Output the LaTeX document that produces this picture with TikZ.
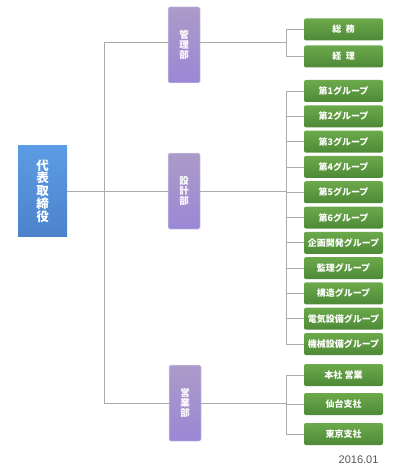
\documentclass[tikz,border=0pt]{standalone}
\usepackage{fontspec}
\newfontfamily\jp{Noto Sans CJK JP}
\newfontfamily\lat{Liberation Sans}
\definecolor{repA}{HTML}{5C9CE4}
\definecolor{repB}{HTML}{4C82CC}
\definecolor{depA}{HTML}{AC9AC8}
\definecolor{depB}{HTML}{9A88D6}
\definecolor{depE}{HTML}{D8D0EA}
\definecolor{grA}{HTML}{6CA94B}
\definecolor{grB}{HTML}{4E8937}
\definecolor{lineC}{HTML}{ABABAB}
\definecolor{dateC}{HTML}{555555}
\tikzset{
  rep/.style={top color=repA, bottom color=repB, draw=none, minimum width=49pt, minimum height=91pt, inner sep=0pt, text=white, align=center, font=\jp\bfseries\fontsize{12.5}{12.8}\selectfont},
  dept/.style={top color=depA, bottom color=depB, draw=depE, line width=0.5pt, rounded corners=1.5pt, minimum width=32pt, minimum height=76pt, inner sep=0pt, text=white, align=center, font=\jp\bfseries\fontsize{9.5}{9.7}\selectfont},
  grp/.style={top color=grA, bottom color=grB, draw=none, rounded corners=2pt, minimum width=79pt, minimum height=22pt, inner sep=0pt, text=white, font=\jp\bfseries\fontsize{9}{10}\selectfont},
  conn/.style={draw=lineC, line width=0.7pt},
}
\begin{document}
\begin{tikzpicture}[x=1pt,y=-1pt]
\useasboundingbox (0,0) rectangle (403,468);
% nodes
\node[rep] (rep) at (42.5,191) {代\\表\\取\\締\\役};
\node[dept] (kanri) at (184,45) {管\\理\\部};
\node[dept] (sekkei) at (184,191) {設\\計\\部};
\node[dept] (eigyo) at (185,403) {営\\業\\部};
% group boxes
\node[grp] (g1) at (343.5,29.5) {総\hspace{0.5em}務};
\node[grp] (g2) at (343.5,56.5) {経\hspace{0.5em}理};
\node[grp] (s1) at (343.5,91) {第1グループ};
\node[grp] (s2) at (343.5,116.3) {第2グループ};
\node[grp] (s3) at (343.5,141.6) {第3グループ};
\node[grp] (s4) at (343.5,166.9) {第4グループ};
\node[grp] (s5) at (343.5,192.2) {第5グループ};
\node[grp] (s6) at (343.5,217.5) {第6グループ};
\node[grp] (s7) at (343.5,242.8) {企画開発グループ};
\node[grp] (s8) at (343.5,268.1) {監理グループ};
\node[grp] (s9) at (343.5,293.4) {構造グループ};
\node[grp] (s10) at (343.5,318.7) {電気設備グループ};
\node[grp] (s11) at (343.5,344) {機械設備グループ};
\node[grp] (e1) at (343.5,375) {本社 営業};
\node[grp] (e2) at (343.5,404) {仙台支社};
\node[grp] (e3) at (343.5,434) {東京支社};
\node[font=\lat\fontsize{11}{12}\selectfont, text=dateC, anchor=base east] (date) at (382,463) {2016.01};
% coordinates
\coordinate (t1) at (104,42);
\coordinate (t2) at (104,191);
\coordinate (t3) at (104,403);
\coordinate (bk) at (286,42);
\coordinate (bs) at (286,191);
\coordinate (be) at (286,403);
% connectors
\draw[conn] (rep.east |- t2) -- (t2);
\draw[conn] (t1) -- (t3);
\draw[conn] (t1) -- (t1 -| kanri.west);
\draw[conn] (t2) -- (t2 -| sekkei.west);
\draw[conn] (t3) -- (t3 -| eigyo.west);
\draw[conn] (bk -| kanri.east) -- (bk);
\draw[conn] (bs -| sekkei.east) -- (bs);
\draw[conn] (be -| eigyo.east) -- (be);
% group trunks
\draw[conn] (bk |- g1) -- (bk |- g2);
\draw[conn] (bs |- s1) -- (bs |- s11);
\draw[conn] (be |- e1) -- (be |- e3);
\foreach \n in {g1,g2,s1,s2,s3,s4,s5,s6,s7,s8,s9,s10,s11,e1,e2,e3}{
  \draw[conn] (bk |- \n) -- (\n.west);
}
\end{tikzpicture}
\end{document}
